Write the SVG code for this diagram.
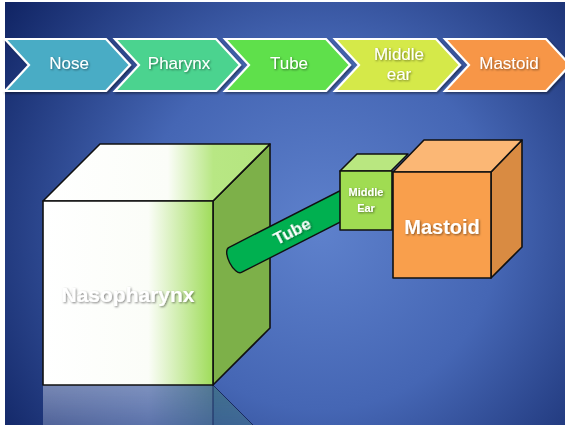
<svg xmlns="http://www.w3.org/2000/svg" width="565" height="425" viewBox="0 0 565 425">
<defs>
<radialGradient id="bg" cx="320" cy="230" r="400" gradientUnits="userSpaceOnUse">
<stop offset="0" stop-color="#5e81cc"/>
<stop offset="0.45" stop-color="#4566b4"/>
<stop offset="1" stop-color="#0d205f"/>
</radialGradient>
<linearGradient id="front" x1="0" y1="0" x2="1" y2="0">
<stop offset="0" stop-color="#ffffff"/>
<stop offset="0.62" stop-color="#fbfdf8"/>
<stop offset="1" stop-color="#9fdc5a"/>
</linearGradient>
<linearGradient id="top" x1="43" y1="0" x2="270" y2="0" gradientUnits="userSpaceOnUse">
<stop offset="0" stop-color="#ffffff"/>
<stop offset="0.55" stop-color="#fbfdf8"/>
<stop offset="0.75" stop-color="#b8e784"/>
<stop offset="1" stop-color="#b4e57e"/>
</linearGradient>
<linearGradient id="refl" x1="0" y1="0" x2="1" y2="0">
<stop offset="0" stop-color="#b8c2dc"/>
<stop offset="0.62" stop-color="#b3bfd6"/>
<stop offset="1" stop-color="#5e8a7a"/>
</linearGradient>
<linearGradient id="reflFade" x1="0" y1="0" x2="0" y2="1">
<stop offset="0" stop-color="#fff" stop-opacity="0.75"/>
<stop offset="1" stop-color="#fff" stop-opacity="0.45"/>
</linearGradient>
<mask id="fadeMask"><rect x="0" y="385" width="565" height="40" fill="url(#reflFade)"/></mask>
<filter id="sh" x="-20%" y="-20%" width="140%" height="140%">
<feDropShadow dx="1.5" dy="1.5" stdDeviation="1.2" flood-color="#000" flood-opacity="0.45"/>
</filter>
<filter id="tsh" x="-20%" y="-20%" width="140%" height="140%">
<feDropShadow dx="1" dy="1" stdDeviation="0.8" flood-color="#000" flood-opacity="0.5"/>
</filter>
<path id="chev" d="M0,39 L101,39 L125,65 L101,91 L0,91 L24,65 Z"/>
</defs>
<style>
.chev{stroke:#ffffff;stroke-width:2.2;stroke-linejoin:miter;filter:url(#sh)}
.ct{font-family:"Liberation Sans",Arial,sans-serif;font-size:17px;fill:#ffffff;text-anchor:middle;filter:url(#tsh)}
.edge{stroke:#111;stroke-width:1.6;stroke-linejoin:round}
.bt{font-family:"Liberation Sans",Arial,sans-serif;font-weight:bold;fill:#ffffff;text-anchor:middle;filter:url(#tsh)}
</style>
<rect x="0" y="0" width="565" height="425" fill="#ffffff"/>
<rect x="5" y="2" width="560" height="423" fill="url(#bg)"/>

<g id="step-nose">
<use href="#chev" x="5" class="chev" fill="#4aacc5"/>
<text class="ct" x="69" y="69">Nose</text>
</g>
<g id="step-pharynx">
<use href="#chev" x="115" class="chev" fill="#4bd38f"/>
<text class="ct" x="179" y="69">Pharynx</text>
</g>
<g id="step-tube">
<use href="#chev" x="225" class="chev" fill="#5ee04b"/>
<text class="ct" x="289" y="69">Tube</text>
</g>
<g id="step-middle-ear">
<use href="#chev" x="335" class="chev" fill="#d5e94a"/>
<text class="ct" x="399" y="60">Middle</text>
<text class="ct" x="399" y="80">ear</text>
</g>
<g id="step-mastoid">
<use href="#chev" x="445" class="chev" fill="#f79646"/>
<text class="ct" x="509" y="69">Mastoid</text>
</g>

<g id="reflection">
<g mask="url(#fadeMask)">
<rect x="43" y="385" width="170" height="45" fill="url(#refl)" opacity="0.75"/>
<polygon points="213,385 270,442 270,430 213,430" fill="#3f7b6c" opacity="0.7"/>
</g>
<line x1="213" y1="385" x2="213" y2="425" stroke="#1a2a60" stroke-width="1"/>
<line x1="213" y1="385" x2="253" y2="425" stroke="#1a2a60" stroke-width="1"/>
</g>

<g id="nasopharynx">
<polygon class="edge" points="213,201 270,144 270,328 213,385" fill="#7db049"/>
<polygon class="edge" points="43,201 100,144 270,144 213,201" fill="url(#top)"/>
<rect class="edge" x="43" y="201" width="170" height="184" fill="url(#front)"/>
<text class="bt" x="128" y="302" font-size="21">Nasopharynx</text>
</g>

<g id="connectors">
<g id="tube" transform="translate(235,260) rotate(-27)">
<path d="M0,-14 L125,-14 L125,14 L0,14 A6,14 0 0 1 0,-14 Z" fill="#00b050" stroke="#111" stroke-width="1.4"/>
<text class="bt" x="64" y="6" font-size="17">Tube</text>
</g>
</g>

<g id="middle-ear">
<polygon class="edge" points="340,171 357,154 408,154 391,171" fill="#b9e780"/>
<rect class="edge" x="340" y="171" width="52" height="59" fill="#a0dc52"/>
<text class="bt" x="366" y="196" font-size="11">Middle</text>
<text class="bt" x="366" y="212" font-size="11">Ear</text>
</g>

<g id="mastoid">
<polygon class="edge" points="491,172 522,140 522,247 491,278" fill="#d98b42"/>
<polygon class="edge" points="393,172 424,140 522,140 491,172" fill="#fbb775"/>
<rect class="edge" x="393" y="172" width="98" height="106" fill="#f99f4c"/>
<text class="bt" x="442" y="234" font-size="20">Mastoid</text>
</g>
</svg>
